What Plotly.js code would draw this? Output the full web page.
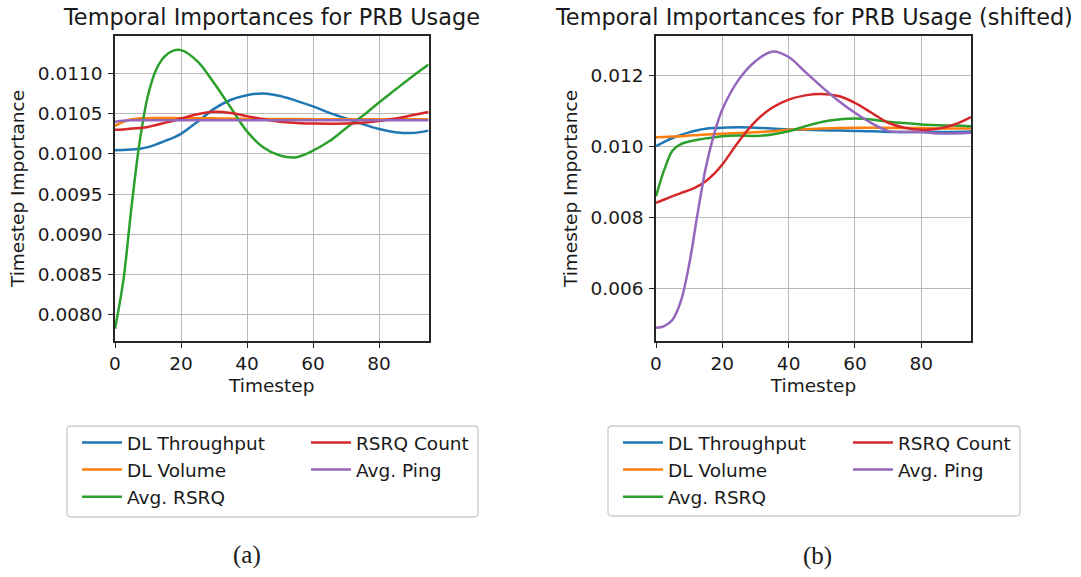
<!DOCTYPE html>
<html>
<head>
<meta charset="utf-8">
<script src="https://cdn.plot.ly/plotly-3.0.1.min.js"></script>
<style>
  html, body { margin: 0; padding: 0; background: #ffffff; }
  #chart { width: 1081px; height: 577px; }
</style>
</head>
<body>
<div id="chart"></div>
<script>
// ---------- data ----------
const timesteps = [0, 2.5, 5, 7.5, 10, 12.5, 15, 17.5, 20, 25, 30, 35, 40, 45, 50, 55, 60, 65, 70, 75, 80, 85, 90, 95];

const seriesNames = ["DL Throughput", "DL Volume", "Avg. RSRQ", "RSRQ Count", "Avg. Ping"];

// (a) Temporal Importances for PRB Usage
const a_dlThroughput = [0.010046, 0.010048, 0.010055, 0.010065, 0.010085, 0.01012, 0.01016, 0.0102, 0.01025, 0.0104, 0.01056, 0.01067, 0.01073, 0.01075, 0.01072, 0.01066, 0.01059, 0.01051, 0.01044, 0.01037, 0.01031, 0.01027, 0.01026, 0.01029];
const a_dlVolume     = [0.01035, 0.0104, 0.01043, 0.010443, 0.010445, 0.010446, 0.010446, 0.010446, 0.010445, 0.010444, 0.010442, 0.01044, 0.010437, 0.010435, 0.010434, 0.010433, 0.010432, 0.010432, 0.010432, 0.010432, 0.010432, 0.010432, 0.010432, 0.010432];
const a_avgRsrq      = [0.00783, 0.00842, 0.00934, 0.01016, 0.01073, 0.01105, 0.01121, 0.01128, 0.01129, 0.01115, 0.01088, 0.01058, 0.01028, 0.01008, 0.00998, 0.00996, 0.01004, 0.01016, 0.01032, 0.01047, 0.01064, 0.0108, 0.01096, 0.01111];
const a_rsrqCount    = [0.0103, 0.010305, 0.010315, 0.010322, 0.010335, 0.01036, 0.010386, 0.01041, 0.01044, 0.010494, 0.010523, 0.01051, 0.01047, 0.01043, 0.0104, 0.010386, 0.010378, 0.010376, 0.010378, 0.010388, 0.01041, 0.01044, 0.01048, 0.01052];
const a_avgPing      = [0.0104, 0.010412, 0.010418, 0.01042, 0.01042, 0.01042, 0.01042, 0.01042, 0.01042, 0.01042, 0.01042, 0.01042, 0.01042, 0.01042, 0.01042, 0.01042, 0.01042, 0.01042, 0.01042, 0.01042, 0.01042, 0.01042, 0.01042, 0.01042];

// (b) Temporal Importances for PRB Usage (shifted)
const b_dlThroughput = [0.0100, 0.01012, 0.01023, 0.01032, 0.01039, 0.01045, 0.01049, 0.01051, 0.01052, 0.01053, 0.01052, 0.0105, 0.01047, 0.01046, 0.01045, 0.01044, 0.01043, 0.01042, 0.0104, 0.0104, 0.0104, 0.0104, 0.0104, 0.01041];
const b_dlVolume     = [0.01025, 0.01026, 0.01027, 0.01028, 0.0103, 0.01031, 0.01033, 0.01034, 0.01035, 0.01037, 0.01039, 0.01042, 0.01046, 0.01048, 0.0105, 0.01051, 0.01052, 0.01052, 0.01052, 0.01051, 0.01051, 0.0105, 0.0105, 0.0105];
const b_avgRsrq      = [0.00859, 0.00934, 0.00988, 0.01006, 0.01013, 0.01018, 0.01022, 0.01025, 0.01028, 0.0103, 0.01029, 0.01033, 0.01042, 0.01056, 0.01068, 0.01075, 0.01078, 0.01075, 0.01069, 0.01065, 0.01061, 0.01059, 0.01058, 0.01056];
const b_rsrqCount    = [0.008406, 0.0085, 0.008594, 0.00868, 0.008762, 0.00887, 0.009015, 0.00922, 0.009484, 0.01014, 0.0107, 0.01108, 0.01131, 0.01143, 0.01147, 0.01141, 0.01122, 0.01094, 0.01066, 0.01052, 0.01046, 0.01049, 0.01061, 0.01082];
const b_avgPing      = [0.00489, 0.00494, 0.00512, 0.00564, 0.00667, 0.00808, 0.00939, 0.01033, 0.01103, 0.01188, 0.01239, 0.01266, 0.01251, 0.01209, 0.01167, 0.01128, 0.01094, 0.01065, 0.01043, 0.0104, 0.0104, 0.01036, 0.01036, 0.01038];

const titleA = "Temporal Importances for PRB Usage";
const titleB = "Temporal Importances for PRB Usage (shifted)";
const xTitle = "Timestep";
const yTitle = "Timestep Importance";
const captions = ["(a)", "(b)"];

// ---------- drawing ----------
const W = 1081, H = 577;
const colors = ["#1f77b4", "#ff7f0e", "#2ca02c", "#d62728", "#9467bd"];
const FONT = "DejaVu Sans, Verdana, sans-serif";
const TXT = "#1a1a1a";

const seriesA = [a_dlThroughput, a_dlVolume, a_avgRsrq, a_rsrqCount, a_avgPing];
const seriesB = [b_dlThroughput, b_dlVolume, b_avgRsrq, b_rsrqCount, b_avgPing];

const traces = [];
function addTraces(series, xa, ya, legCol1, legCol2) {
  series.forEach((vals, i) => {
    traces.push({
      type: "scatter", mode: "lines",
      x: timesteps, y: vals,
      xaxis: xa, yaxis: ya,
      name: seriesNames[i],
      legend: i < 3 ? legCol1 : legCol2,
      line: { color: colors[i], width: 2.5, shape: "spline", smoothing: 1 },
      hoverinfo: "x+y+name"
    });
  });
}
addTraces(seriesA, "x", "y", "legend", "legend2");
addTraces(seriesB, "x2", "y2", "legend3", "legend4");

const px = v => v / W;
const py = v => 1 - v / H;

const axisCommon = {
  showgrid: true, gridcolor: "#b9b9b9", gridwidth: 1.3,
  showline: true, linecolor: "#262626", linewidth: 1.5, mirror: true,
  ticks: "outside", ticklen: 5, tickwidth: 1.3, tickcolor: "#262626",
  zeroline: false,
  tickfont: { family: FONT, size: 18.5, color: TXT },
  title: { font: { family: FONT, size: 18.5, color: TXT } }
};

function xAxis(domain, anchor) {
  return Object.assign({}, axisCommon, {
    domain: domain, anchor: anchor, range: [0, 95], tick0: 0, dtick: 20,
    title: { text: xTitle, font: axisCommon.title.font, standoff: 6 },
    ticklabelstandoff: 0
  });
}
function yAxis(domain, anchor, range, dtick, fmt) {
  return Object.assign({}, axisCommon, {
    domain: domain, anchor: anchor, range: range, tick0: 0, dtick: dtick,
    tickformat: fmt,
    title: { text: yTitle, font: axisCommon.title.font, standoff: 8 },
    ticklabelstandoff: 2
  });
}

const yDom = [py(341), py(36)];
const legendBase = {
  orientation: "v", bgcolor: "rgba(0,0,0,0)", borderwidth: 0,
  font: { family: FONT, size: 18.5, color: TXT },
  itemwidth: 40, tracegroupgap: 0, traceorder: "normal",
  xanchor: "left", yanchor: "top", y: py(424), itemclick: false, itemdoubleclick: false
};

function roundRect(x0, y0, x1, y1, r) {
  const rx = r / W, ry = r / H;
  const X0 = px(x0), X1 = px(x1), Y0 = py(y0), Y1 = py(y1);
  return `M ${X0 + rx},${Y0} L ${X1 - rx},${Y0} Q ${X1},${Y0} ${X1},${Y0 - ry} ` +
         `L ${X1},${Y1 + ry} Q ${X1},${Y1} ${X1 - rx},${Y1} L ${X0 + rx},${Y1} ` +
         `Q ${X0},${Y1} ${X0},${Y1 + ry} L ${X0},${Y0 - ry} Q ${X0},${Y0} ${X0 + rx},${Y0} Z`;
}

const layout = {
  width: W, height: H,
  margin: { l: 0, r: 0, t: 0, b: 0 },
  paper_bgcolor: "#ffffff", plot_bgcolor: "#ffffff",
  font: { family: FONT, color: TXT },
  xaxis: xAxis([px(115), px(428.5)], "y"),
  yaxis: yAxis(yDom, "x", [0.007677, 0.011465], 0.0005, ".4f"),
  xaxis2: xAxis([px(656), px(971)], "y2"),
  yaxis2: yAxis(yDom, "x2", [0.00452, 0.01310], 0.002, ".3f"),
  legend:  Object.assign({}, legendBase, { x: px(77) }),
  legend2: Object.assign({}, legendBase, { x: px(306) }),
  legend3: Object.assign({}, legendBase, { x: px(618) }),
  legend4: Object.assign({}, legendBase, { x: px(848) }),
  shapes: [
    { type: "path", xref: "paper", yref: "paper", path: roundRect(67, 426, 478, 517, 4),
      line: { color: "#cccccc", width: 1.3 }, fillcolor: "rgba(0,0,0,0)", layer: "below" },
    { type: "path", xref: "paper", yref: "paper", path: roundRect(608, 426, 1020, 516, 4),
      line: { color: "#cccccc", width: 1.3 }, fillcolor: "rgba(0,0,0,0)", layer: "below" }
  ],
  annotations: [
    { text: titleA, xref: "paper", yref: "paper", x: px(271.75), y: py(17), xanchor: "center", yanchor: "middle",
      showarrow: false, font: { family: FONT, size: 22.4, color: TXT } },
    { text: titleB, xref: "paper", yref: "paper", x: px(813.5), y: py(17), xanchor: "center", yanchor: "middle",
      showarrow: false, font: { family: FONT, size: 22.4, color: TXT } },
    { text: captions[0], xref: "paper", yref: "paper", x: px(247), y: py(555), xanchor: "center", yanchor: "middle",
      showarrow: false, font: { family: "Liberation Serif, Times New Roman, serif", size: 25, color: TXT } },
    { text: captions[1], xref: "paper", yref: "paper", x: px(817), y: py(556), xanchor: "center", yanchor: "middle",
      showarrow: false, font: { family: "Liberation Serif, Times New Roman, serif", size: 25, color: TXT } }
  ],
  showlegend: true
};

Plotly.newPlot("chart", traces, layout, { displayModeBar: false, staticPlot: false });
</script>
</body>
</html>
